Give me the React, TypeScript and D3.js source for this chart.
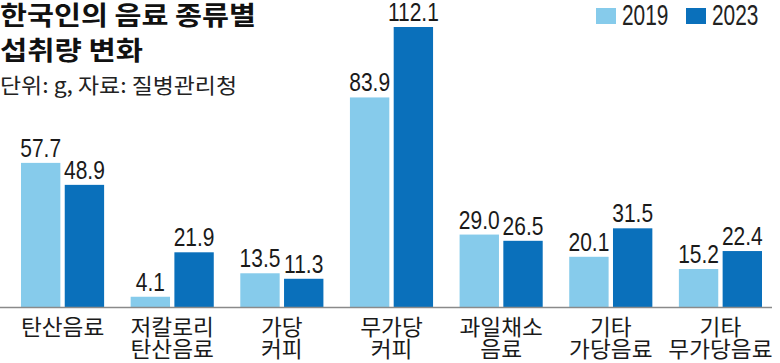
import React, { useEffect, useRef } from 'react'
import * as d3 from 'd3'

const categories = [
  ['탄산음료'],
  ['저칼로리', '탄산음료'],
  ['가당', '커피'],
  ['무가당', '커피'],
  ['과일채소', '음료'],
  ['기타', '가당음료'],
  ['기타', '무가당음료'],
]
const years = ['2019', '2023']
const values2019 = [57.7, 4.1, 13.5, 83.9, 29.0, 20.1, 15.2]
const values2023 = [48.9, 21.9, 11.3, 112.1, 26.5, 31.5, 22.4]

const colors = ['#86cbeb', '#0a70bb']
const krFont = '"Noto Sans CJK KR", "Noto Sans", sans-serif'
const numFont = '"Liberation Sans", Arial, sans-serif'

const App = () => {
  const ref = useRef<SVGSVGElement>(null)

  useEffect(() => {
    const svg = d3.select(ref.current)
    svg.selectAll('*').remove()

    const baseY = 307

    const x0 = d3.scaleBand<number>()
      .domain(d3.range(categories.length))
      .range([21, 762])
      .paddingInner(0.242)
      .paddingOuter(0)

    const x1 = d3.scaleBand<number>()
      .domain([0, 1])
      .range([0, x0.bandwidth()])
      .paddingInner(0.1)

    const y = d3.scaleLinear()
      .domain([0, 112.1])
      .range([baseY, 27])

    // title
    const title = svg.append('g')
    title.append('text')
      .attr('x', 0).attr('y', 25)
      .attr('font-family', krFont).attr('font-weight', 'bold')
      .attr('font-size', 26).attr('fill', '#111')
      .attr('textLength', 256).attr('lengthAdjust', 'spacingAndGlyphs')
      .text('한국인의 음료 종류별')
    title.append('text')
      .attr('x', 0).attr('y', 60)
      .attr('font-family', krFont).attr('font-weight', 'bold')
      .attr('font-size', 26).attr('fill', '#111')
      .attr('textLength', 143).attr('lengthAdjust', 'spacingAndGlyphs')
      .text('섭취량 변화')
    title.append('text')
      .attr('x', 0).attr('y', 93)
      .attr('font-family', krFont)
      .attr('font-size', 21).attr('fill', '#222')
      .attr('textLength', 237).attr('lengthAdjust', 'spacingAndGlyphs')
      .text('단위: g, 자료: 질병관리청')

    // legend
    const legend = svg.append('g')
    const legendX = [596, 686]
    years.forEach((yr, i) => {
      legend.append('rect')
        .attr('x', legendX[i]).attr('y', 8)
        .attr('width', 20).attr('height', 16)
        .attr('fill', colors[i])
      legend.append('text')
        .attr('transform', `translate(${legendX[i] + 26},25) scale(0.72,1)`)
        .attr('font-family', numFont)
        .attr('font-size', 29).attr('fill', '#222')
        .text(yr)
    })

    const rows = categories.map((c, i) => ({ i, v: [values2019[i], values2023[i]] }))

    const groups = svg.append('g')
      .selectAll('g')
      .data(rows)
      .join('g')
      .attr('transform', d => `translate(${x0(d.i)},0)`)

    groups.selectAll('rect')
      .data(d => d.v)
      .join('rect')
      .attr('x', (d, j) => x1(j)!)
      .attr('y', d => y(d))
      .attr('width', x1.bandwidth())
      .attr('height', d => baseY - y(d))
      .attr('fill', (d, j) => colors[j])

    groups.selectAll('text.val')
      .data(d => d.v)
      .join('text')
      .attr('class', 'val')
      .attr('transform', (d, j) => `translate(${x1(j)! + x1.bandwidth() / 2},${y(d) - 6}) scale(0.84,1)`)
      .attr('text-anchor', 'middle')
      .attr('font-family', numFont)
      .attr('font-size', 25)
      .attr('fill', '#1a1a1a')
      .text(d => d.toFixed(1))

    // baseline
    svg.append('line')
      .attr('x1', 0).attr('x2', 772)
      .attr('y1', baseY + 0.5).attr('y2', baseY + 0.5)
      .attr('stroke', '#8a8a8a')
      .attr('stroke-width', 1.5)

    // category labels
    groups.each(function (d) {
      const t = d3.select(this).append('text')
        .attr('transform', `translate(${x0.bandwidth() / 2},0) scale(1.03,1)`)
        .attr('text-anchor', 'middle')
        .attr('font-family', krFont)
        .attr('font-size', 22)
        .attr('fill', '#1a1a1a')
      categories[d.i].forEach((line, k) => {
        t.append('tspan')
          .attr('x', 0)
          .attr('y', 335 + k * 22)
          .text(line)
      })
    })
  }, [])

  return (
    <svg
      ref={ref}
      width={780}
      height={363}
      style={{ display: 'block', background: '#fff', position: 'absolute', left: 0, top: 0 }}
    />
  )
}

export default App
